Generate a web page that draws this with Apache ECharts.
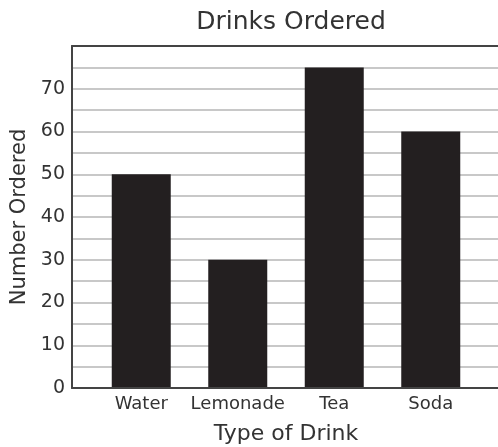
<!DOCTYPE html>
<html><head><meta charset="utf-8">
<script src="https://cdn.jsdelivr.net/npm/echarts@6/dist/echarts.min.js"></script>
<style>html,body{margin:0;padding:0;background:#fff}#c{width:498px;height:447px}</style>
</head><body><div id="c"></div>
<script>
const categories = ['Water', 'Lemonade', 'Tea', 'Soda'];
const values = [50, 30, 75, 60];
const yMin = 0, yMax = 80, yStep = 5;
const title = 'Drinks Ordered';
const xName = 'Type of Drink';
const yName = 'Number Ordered';

const font = 'DejaVu Sans, Verdana, sans-serif';
const dark = { show: true, lineStyle: { color: '#444', width: 2 } };
const chart = echarts.init(document.getElementById('c'));
chart.setOption({
  animation: false,
  title: { text: title, left: 286, textAlign: 'center', top: 5,
    textStyle: { fontFamily: font, fontSize: 25, fontWeight: 'normal', color: '#333' } },
  grid: [
    { left: 72, right: -4, top: 46, bottom: 59, containLabel: false, outerBoundsMode: 'none' },
    { left: 93, right: 19, top: 46, bottom: 59, containLabel: false, outerBoundsMode: 'none' }
  ],
  xAxis: [
    { gridIndex: 0, type: 'value', min: 0, max: 1, position: 'bottom', z: 20,
      axisLine: dark, axisTick: { show: false }, axisLabel: { show: false }, splitLine: { show: false } },
    { gridIndex: 1, type: 'category', data: categories,
      axisLine: { show: false }, axisTick: { show: false },
      axisLabel: { fontFamily: font, fontSize: 18, color: '#333', margin: 7, interval: 0, hideOverlap: false },
      name: xName, nameLocation: 'middle', nameGap: 35,
      nameTextStyle: { fontFamily: font, fontSize: 22, color: '#333' } },
    { gridIndex: 0, type: 'value', min: 0, max: 1, position: 'top', z: 20,
      axisLine: dark, axisTick: { show: false }, axisLabel: { show: false }, splitLine: { show: false } }
  ],
  yAxis: [
    { gridIndex: 0, type: 'value', min: yMin, max: yMax, interval: yStep,
      axisLine: dark,
      axisTick: { show: false },
      splitLine: { show: true, lineStyle: { color: '#c8c8c8', width: 2 } },
      axisLabel: { fontFamily: font, fontSize: 19, color: '#333', margin: 7,
        formatter: v => (v % 10 === 0 && v < yMax) ? String(v) : '' },
      name: yName, nameLocation: 'middle', nameGap: 39,
      nameTextStyle: { fontFamily: font, fontSize: 21, color: '#333' } },
    { gridIndex: 1, type: 'value', min: yMin, max: yMax, show: false }
  ],
  series: [{
    type: 'bar', xAxisIndex: 1, yAxisIndex: 1, data: values, z: 10,
    barWidth: 59, itemStyle: { color: '#231f20' }
  }]
});
</script></body></html>
